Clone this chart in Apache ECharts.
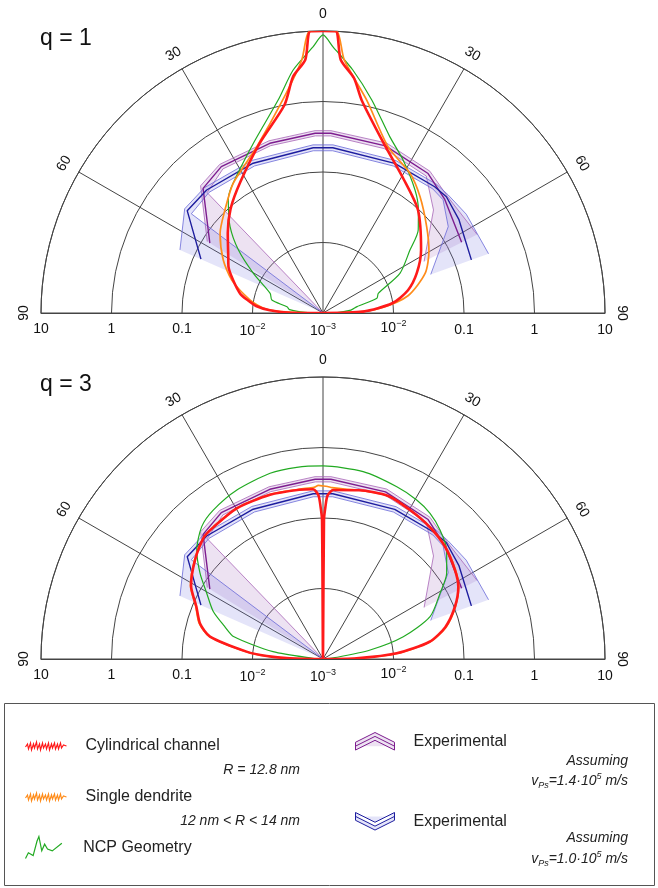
<!DOCTYPE html>
<html>
<head>
<meta charset="utf-8">
<script src="https://cdn.jsdelivr.net/npm/echarts@6/dist/echarts.min.js"></script>
<style>
html,body{margin:0;padding:0;background:#fff;}
#chart{width:658px;height:888px;}
</style>
</head>
<body>
<div id="chart"></div>
<script>
// ---------------- axes / labels ----------------
const radiusTickValues = [0.001, 0.01, 0.1, 1, 10];
const radiusTickLabels = ['{b|10}{s|−3}', '{b|10}{s|−2}', '0.1', '1', '10'];
const angleTickValues = [-90, -60, -30, 0, 30, 60, 90];
const angleTickLabels = ['90', '60', '30', '0', '30', '60', '90'];
const panelTitles = ['q = 1', 'q = 3'];

// ---------------- q = 1 ----------------
const q1RedAngles = [-90, -89.5, -87, -84, -80, -76.7, -70, -64, -59, -50, -41.5, -32, -20.5, -10.5, -7.2, -4, -2.6, 0, 2.6, 4, 7.5, 10.3, 20, 31, 42.7, 57.3, 66.9, 75, 82, 88, 90];
const q1RedValues = [0.001, 0.0029, 0.0057, 0.009, 0.0125, 0.0162, 0.0227, 0.031, 0.037, 0.058, 0.095, 0.16, 0.37, 1.0, 2.4, 4.0, 10, 10, 10, 4.0, 2.3, 1.17, 0.35, 0.165, 0.097, 0.045, 0.028, 0.0177, 0.0098, 0.0037, 0.001];

const q1OrangeAngles = [-90, -88.5, -86, -79.9, -70.1, -62, -52.3, -43.6, -34.7, -21.7, -10.7, -4.8, -2.8, 0, 2.8, 4.8, 11.6, 21.4, 31.9, 39.8, 50.2, 59.7, 68.7, 78.5, 85.3, 88.5, 90];
const q1OrangeValues = [0.001, 0.003, 0.0065, 0.0112, 0.0238, 0.040, 0.070, 0.104, 0.173, 0.346, 1.19, 4.0, 10, 10, 10, 4.0, 1.21, 0.34, 0.216, 0.141, 0.082, 0.055, 0.036, 0.017, 0.0065, 0.003, 0.001];

const q1GreenAngles = [-90, -88, -84.3, -80.2, -75.8, -69.6, -60.3, -53.4, -47.1, -40, -35.9, -22.3, -11.9, -7, -2.15, 0, 2.15, 7, 12.9, 20.8, 27.7, 36.8, 42.8, 48.9, 54.1, 62.7, 70.4, 74.7, 79.4, 84, 88, 90];
const q1GreenValues = [0.001, 0.0018, 0.003, 0.0033, 0.0056, 0.0063, 0.0137, 0.031, 0.063, 0.123, 0.163, 0.40, 1.22, 2.97, 6.0, 8.8, 6.0, 2.97, 1.26, 0.47, 0.28, 0.151, 0.098, 0.062, 0.0333, 0.0169, 0.0068, 0.0062, 0.0031, 0.0025, 0.0016, 0.001];

// ---------------- q = 3 ----------------
const q3RedAngles = [-90, -88.8, -87, -84.5, -78.8, -74, -67.5, -61, -52.3, -44.4, -39.7, -29.8, -17.9, -8, -3.3, -1.6, -0.9, -0.4, 0, 0.4, 0.9, 1.6, 3.5, 12, 21.8, 30.3, 39.1, 47.4, 56, 61.9, 68.4, 75.4, 80.8, 85.6, 88.8, 90];
const q3RedValues = [0.001, 0.003, 0.0063, 0.0123, 0.043, 0.065, 0.088, 0.138, 0.197, 0.26, 0.27, 0.29, 0.28, 0.265, 0.258, 0.21, 0.143, 0.094, 0.001, 0.094, 0.143, 0.21, 0.252, 0.28, 0.31, 0.28, 0.255, 0.225, 0.181, 0.15, 0.103, 0.062, 0.034, 0.0112, 0.003, 0.001];

const q3OrangeAngles = [-90, -88.8, -87, -84.5, -78.8, -74, -67.5, -61, -52.3, -44.4, -39.7, -29.8, -17.9, -8, -3, -1.5, 0, 1.5, 3, 8, 12, 21.8, 30.3, 39.1, 47.4, 56, 61.9, 68.4, 75.4, 80.8, 85.6, 88.8, 90];
const q3OrangeValues = [0.001, 0.003, 0.0066, 0.0127, 0.044, 0.067, 0.09, 0.141, 0.2, 0.262, 0.272, 0.292, 0.283, 0.27, 0.275, 0.29, 0.285, 0.28, 0.272, 0.27, 0.282, 0.31, 0.282, 0.257, 0.228, 0.184, 0.152, 0.105, 0.064, 0.035, 0.0116, 0.0031, 0.001];

const q3GreenAngles = [-90, -86, -81.6, -76, -71.5, -66.5, -60.5, -55.1, -49.2, -42.5, -36.4, -27, -15.9, -7.8, 0, 12.1, 23.2, 30.5, 36.3, 42.2, 48.6, 55.3, 60.7, 68.4, 74.5, 79.2, 83, 90];
const q3GreenValues = [0.001, 0.0014, 0.0052, 0.02, 0.03, 0.05, 0.0785, 0.134, 0.232, 0.352, 0.42, 0.49, 0.548, 0.555, 0.547, 0.522, 0.455, 0.415, 0.367, 0.296, 0.218, 0.136, 0.08, 0.043, 0.0152, 0.0048, 0.0016, 0.001];

// ---------------- experimental (same in both panels) ----------------
const expPurpleAngles = [-58.3, -43.9, -34.8, -17.4, -2.5, 2.5, 20.5, 37, 47, 63];
const expPurpleMid  = [0.077, 0.284, 0.337, 0.333, 0.357, 0.357, 0.340, 0.300, 0.230, 0.161];
const expPurpleHigh = [0.085, 0.319, 0.369, 0.363, 0.388, 0.388, 0.375, 0.330, 0.262, 0.284];
const expPurpleLow  = [0.001, 0.234, 0.308, 0.307, 0.327, 0.327, 0.308, 0.271, 0.139, 0.0407];

const expBlueAngles = [-66.2, -53, -43.4, -25, -3.4, 3.4, 25.6, 41.5, 46.7, 55.4, 70.3];
const expBlueMid  = [0.078, 0.258, 0.252, 0.221, 0.223, 0.223, 0.226, 0.246, 0.254, 0.219, 0.172];
const expBlueHigh = [0.165, 0.286, 0.280, 0.244, 0.245, 0.245, 0.249, 0.272, 0.276, 0.294, 0.312];
const expBlueLow  = [0.001, 0.218, 0.226, 0.200, 0.202, 0.202, 0.205, 0.224, 0.219, 0.144, 0.042];

// ---------------- names ----------------
const NAME_RED = 'Cylindrical channel';
const NAME_ORANGE = 'Single dendrite';
const NAME_GREEN = 'NCP Geometry';
const NAME_PURPLE = 'Experimental (vPs = 1.4·10⁵ m/s)';
const NAME_BLUE = 'Experimental (vPs = 1.0·10⁵ m/s)';

// ---------------- styling ----------------
const FONT = "'Liberation Sans', Arial, Helvetica, sans-serif";
const GRID = '#444';
const TXT = '#111';
const CX = 323, RAD = 282, CYS = [313, 659];
const C_RED = '#ff1a1a', C_ORANGE = '#ff8c1a', C_GREEN = '#22aa22';
const C_PURPLE = '#7d1d8f', C_PURPLE_L = '#a866b8', F_PURPLE = 'rgba(165,110,190,0.20)';
const C_BLUE = '#1d1d9e', C_BLUE_L = '#6a6ad8', F_BLUE = 'rgba(120,120,225,0.20)';

function radiusLabel(v) {
  let best = 0, d = Infinity;
  radiusTickValues.forEach((t, i) => { const e = Math.abs(Math.log10(t) - Math.log10(v)); if (e < d) { d = e; best = i; } });
  return radiusTickLabels[best];
}
const radiusRich = {
  b: { fontSize: 14, fontFamily: FONT, color: TXT, lineHeight: 18 },
  s: { fontSize: 9, fontFamily: FONT, color: TXT, verticalAlign: 'top', lineHeight: 10 }
};

const polar = [], angleAxis = [], radiusAxis = [];
CYS.forEach((cy, p) => {
  const a = p * 2, b = p * 2 + 1;
  polar.push({ center: [CX, cy], radius: RAD }, { center: [CX, cy], radius: RAD });
  angleAxis.push({
    polarIndex: a, type: 'value', min: -90, max: 90, interval: 30,
    startAngle: 180, endAngle: 0, clockwise: true,
    axisLine: { show: true, lineStyle: { color: GRID, width: 1 } },
    axisTick: { show: false },
    splitLine: { show: true, lineStyle: { color: GRID, width: 1 } },
    axisLabel: { show: false }
  }, {
    polarIndex: b, type: 'value', min: -90, max: 90,
    startAngle: 0, endAngle: 180, clockwise: false, show: false
  });
  radiusAxis.push({
    polarIndex: a, type: 'log', logBase: 10, min: 0.001, max: 10,
    axisLine: { show: true, lineStyle: { color: GRID, width: 1 } },
    axisTick: { show: false },
    splitLine: { show: true, lineStyle: { color: GRID, width: 1 } },
    axisLabel: { show: true, formatter: radiusLabel, fontSize: 14, color: TXT, fontFamily: FONT, margin: 9, rich: radiusRich }
  }, {
    polarIndex: b, type: 'log', logBase: 10, min: 0.001, max: 10,
    axisLine: { show: true, lineStyle: { color: GRID, width: 1 } },
    axisTick: { show: false },
    splitLine: { show: false },
    axisLabel: { show: true, formatter: radiusLabel, fontSize: 14, color: TXT, fontFamily: FONT, margin: -24, showMinLabel: false, rich: radiusRich }
  });
});

function pairs(values, angles) { return values.map((v, i) => [v, angles[i]]); }
function lineSeries(name, polarIndex, angles, values, color, width, z, smooth) {
  return {
    type: 'line', name, coordinateSystem: 'polar', polarIndex,
    data: pairs(values, angles), showSymbol: false, symbol: 'none', smooth: smooth || false,
    lineStyle: { color, width }, itemStyle: { color }, z, silent: true, clip: true
  };
}
function bandSeries(name, polarIndex, angles, low, high, fill, z) {
  return {
    type: 'custom', name, coordinateSystem: 'polar', polarIndex,
    data: [[high[0], angles[0]]], silent: true, z,
    itemStyle: { color: fill },
    renderItem: function (params, api) {
      const pts = [];
      for (let i = 0; i < angles.length; i++) pts.push(api.coord([high[i], angles[i]]));
      for (let i = angles.length - 1; i >= 0; i--) pts.push(api.coord([low[i], angles[i]]));
      return { type: 'polygon', shape: { points: pts }, style: { fill: fill, stroke: null } };
    }
  };
}
// angle tick labels, placed just outside the outer ring and turned along it
function angleLabelSeries(polarIndex) {
  const rMax = radiusTickValues[radiusTickValues.length - 1];
  const rMin = radiusTickValues[0];
  return {
    type: 'custom', coordinateSystem: 'polar', polarIndex, silent: true, z: 10,
    data: angleTickValues.map(a => [rMax, a]),
    renderItem: function (params, api) {
      const a = api.value(1);
      const p = api.coord([api.value(0), a]);
      const c = api.coord([rMin, a]);
      const dx = p[0] - c[0], dy = p[1] - c[1], len = Math.hypot(dx, dy) || 1;
      const off = 17;
      return {
        type: 'text', x: p[0] + dx / len * off, y: p[1] + dy / len * off,
        rotation: -a * Math.PI / 180,
        style: { text: angleTickLabels[params.dataIndex], align: 'center', verticalAlign: 'middle',
                 fontSize: 14, fontFamily: FONT, fill: TXT }
      };
    }
  };
}

const panels = [
  { red: [q1RedAngles, q1RedValues], orange: [q1OrangeAngles, q1OrangeValues], green: [q1GreenAngles, q1GreenValues] },
  { red: [q3RedAngles, q3RedValues], orange: [q3OrangeAngles, q3OrangeValues], green: [q3GreenAngles, q3GreenValues] }
];
const SMOOTH = 0.25;
const series = [];
panels.forEach((pd, p) => {
  const pi = p * 2;
  series.push(bandSeries(NAME_PURPLE, pi, expPurpleAngles, expPurpleLow, expPurpleHigh, F_PURPLE, 2));
  series.push(bandSeries(NAME_BLUE, pi, expBlueAngles, expBlueLow, expBlueHigh, F_BLUE, 2));
  series.push(lineSeries(NAME_PURPLE, pi, expPurpleAngles, expPurpleHigh, C_PURPLE_L, 0.8, 3));
  series.push(lineSeries(NAME_PURPLE, pi, expPurpleAngles, expPurpleLow, C_PURPLE_L, 0.8, 3));
  series.push(lineSeries(NAME_BLUE, pi, expBlueAngles, expBlueHigh, C_BLUE_L, 0.8, 3));
  series.push(lineSeries(NAME_BLUE, pi, expBlueAngles, expBlueLow, C_BLUE_L, 0.8, 3));
  series.push(lineSeries(NAME_PURPLE, pi, expPurpleAngles, expPurpleMid, C_PURPLE, 1.4, 4));
  series.push(lineSeries(NAME_BLUE, pi, expBlueAngles, expBlueMid, C_BLUE, 1.4, 4));
  series.push(lineSeries(NAME_GREEN, pi, pd.green[0], pd.green[1], C_GREEN, 1.2, 5, SMOOTH));
  series.push(lineSeries(NAME_ORANGE, pi, pd.orange[0], pd.orange[1], C_ORANGE, 1.7, 6, SMOOTH));
  series.push(lineSeries(NAME_RED, pi, pd.red[0], pd.red[1], C_RED, 2.6, 7, SMOOTH));
  series.push(angleLabelSeries(pi));
});

// ---------------- legend ----------------
const legendText = { fontSize: 16, fontFamily: FONT, color: '#222', padding: [0, 0, 0, 14] };
function legendItem(name, icon, itemStyle, left, top, w, h) {
  return {
    data: [{ name, icon, itemStyle }], left, top, orient: 'vertical', padding: 0,
    itemWidth: w, itemHeight: h, selectedMode: false, textStyle: legendText,
    formatter: n => (n.indexOf('Experimental') === 0 ? 'Experimental' : n)
  };
}
const ICON_SQUIGGLE = 'path://M0,6 L2,3 L3,8 L5,2 L6,9 L8,3 L9,7 L11,1 L12,8 L14,3 L15,9 L17,2 L18,7 L20,3 L21,8 L23,2 L24,9 L26,3 L27,7 L29,2 L30,8 L32,3 L33,8 L35,2 L36,7 L38,4 L41,5';
const ICON_GREEN = 'path://M0,23 L3,17 L8,20 L12,5 L14,0 L17,15 L20,8 L23,13 L28,15 L38,7';
const ICON_UP = 'path://M0,12 L20,2 L40,12 L40,20 L20,10 L0,20 Z M0,16 L20,6 L40,16';
const ICON_DOWN = 'path://M0,2 L20,12 L40,2 L40,10 L20,20 L0,10 Z M0,6 L20,16 L40,6';
const legend = [
  legendItem(NAME_RED, ICON_SQUIGGLE, { color: 'none', borderColor: C_RED, borderWidth: 1.2 }, 23, 738, 41, 10),
  legendItem(NAME_ORANGE, ICON_SQUIGGLE, { color: 'none', borderColor: C_ORANGE, borderWidth: 1.2 }, 23, 789, 41, 10),
  legendItem(NAME_GREEN, ICON_GREEN, { color: 'none', borderColor: C_GREEN, borderWidth: 1.2 }, 23, 834, 41, 22),
  legendItem(NAME_PURPLE, ICON_UP, { color: F_PURPLE, borderColor: C_PURPLE, borderWidth: 1 }, 355, 732, 39, 21),
  legendItem(NAME_BLUE, ICON_DOWN, { color: F_BLUE, borderColor: C_BLUE, borderWidth: 1 }, 355, 812, 39, 21)
];

const noteRich = {
  i: { fontSize: 14, fontStyle: 'italic', fontFamily: FONT, fill: '#222', lineHeight: 18 },
  sub: { fontSize: 9, fontStyle: 'italic', fontFamily: FONT, fill: '#222', verticalAlign: 'bottom', lineHeight: 9 },
  sup: { fontSize: 9, fontStyle: 'italic', fontFamily: FONT, fill: '#222', verticalAlign: 'top', lineHeight: 9 }
};
function note(text, x, y) {
  return { type: 'text', x, y, z: 10, style: { text, align: 'right', verticalAlign: 'middle', rich: noteRich, fontSize: 14, fontStyle: 'italic', fontFamily: FONT, fill: '#222' } };
}
const graphic = [
  { type: 'rect', z: 0, shape: { x: 4.5, y: 703.5, width: 650, height: 182 }, style: { fill: 'none', stroke: '#555', lineWidth: 1 } },
  note('{i|R = 12.8 nm}', 300, 770),
  note('{i|12 nm < R < 14 nm}', 300, 821),
  note('{i|Assuming}', 628, 761),
  note('{i|v}{sub|Ps}{i|=1.4·10}{sup|5}{i| m/s}', 628, 781),
  note('{i|Assuming}', 628, 838),
  note('{i|v}{sub|Ps}{i|=1.0·10}{sup|5}{i| m/s}', 628, 859)
];

const title = panelTitles.map((t, i) => ({
  text: t, left: 40, top: i === 0 ? 27 : 373, padding: 0,
  textStyle: { fontSize: 23, fontWeight: 'normal', color: TXT, fontFamily: FONT }
}));

const chart = echarts.init(document.getElementById('chart'), null, { renderer: 'canvas' });
chart.setOption({
  animation: false,
  backgroundColor: '#fff',
  title, polar, angleAxis, radiusAxis, legend, graphic, series
});
</script>
</body>
</html>
